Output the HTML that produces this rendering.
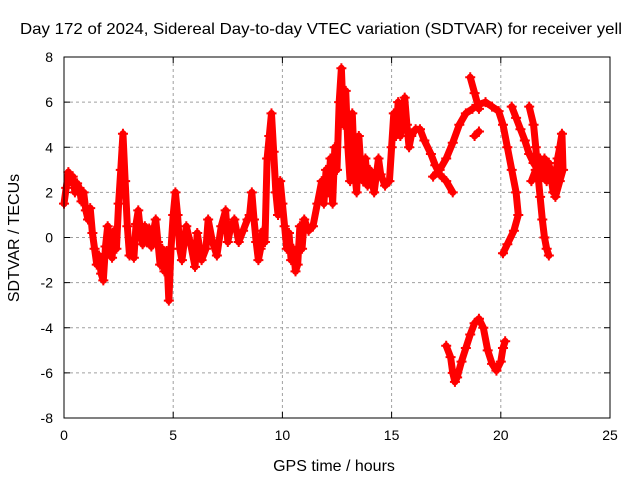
<!DOCTYPE html>
<html><head><meta charset="utf-8"><style>
body{margin:0;background:#fff;}
svg text{font-family:"Liberation Sans",sans-serif;fill:#000;}
</style></head><body>
<svg id="chart" width="640" height="480" xmlns="http://www.w3.org/2000/svg">
<rect width="640" height="480" fill="#fff"/>
<text x="20" y="34" font-size="16" textLength="602" lengthAdjust="spacingAndGlyphs">Day 172 of 2024, Sidereal Day-to-day VTEC variation (SDTVAR) for receiver yell</text>
<text transform="translate(19,238) rotate(-90)" text-anchor="middle" font-size="16">SDTVAR / TECUs</text>
<text x="334" y="471" text-anchor="middle" font-size="16">GPS time / hours</text>
<g id="grid"></g>
<g id="ticks"></g>
<g id="series"></g>
<rect x="64" y="57" width="546" height="361" fill="none" stroke="#000" stroke-width="1"/>
</svg>
<script>
const xTicks=[0,5,10,15,20,25];
const yTicks=[-8,-6,-4,-2,0,2,4,6,8];
const trackMain=[[0,1.5],[0.1,2.2],[0.2,2.9],[0.3,2.5],[0.4,2.7],[0.5,2.0],[0.6,2.4],[0.7,2.2],[0.8,1.6],[0.9,2.0],[1.0,1.2],[1.1,0.8],[1.2,1.3],[1.3,0.2],[1.4,-0.5],[1.5,-1.2],[1.6,-0.8],[1.7,-1.6],[1.8,-1.9],[1.9,-0.4],[2.0,0.5],[2.1,-0.3],[2.2,-0.9],[2.3,0.3],[2.4,-0.5],[2.5,1.5],[2.6,3.0],[2.7,4.6],[2.8,2.5],[2.9,0.5],[3.0,-0.8],[3.1,-0.3],[3.2,-0.9],[3.3,0.6],[3.4,1.2],[3.5,0.3],[3.6,-0.3],[3.7,0.5],[3.8,-0.2],[3.9,0.4],[4.0,-0.4],[4.1,0.3],[4.2,0.8],[4.3,-0.2],[4.4,-1.2],[4.5,-0.5],[4.6,-1.5],[4.7,-0.6],[4.8,-2.8],[4.9,-0.5],[5.0,1.0],[5.1,2.0],[5.2,1.0],[5.3,-0.5],[5.4,-1.0],[5.6,0.5],[5.8,-0.3],[6.0,-1.3],[6.1,0.2],[6.3,-1.0],[6.5,-0.5],[6.6,0.8],[6.8,-0.2],[7.0,-0.8],[7.2,0.5],[7.4,1.2],[7.5,-0.2],[7.6,0.3],[7.8,0.8],[8.0,-0.2],[8.2,0.3],[8.4,0.8],[8.5,1.0],[8.6,2.0],[8.7,0.8],[8.8,-0.2],[8.9,-1.0],[9.0,-0.5],[9.1,0.3],[9.2,-0.2],[9.3,3.5],[9.4,4.5],[9.5,5.5],[9.6,3.8],[9.7,2.0],[9.8,1.0],[9.9,2.5],[10.0,1.5],[10.1,0.5],[10.2,-0.5],[10.3,0.2],[10.4,-1.0],[10.5,-0.5],[10.6,-1.5],[10.7,-1.2],[10.8,0.5],[10.9,-0.5],[11.0,0.8],[11.2,0.3],[11.4,0.5],[11.6,1.5],[11.8,2.5],[11.9,1.5],[12.0,3.0],[12.1,2.0],[12.2,3.5],[12.3,1.5],[12.4,4.0],[12.5,3.0],[12.6,6.0],[12.7,7.5],[12.8,5.0],[12.9,6.5],[13.0,4.0],[13.1,2.5],[13.2,5.5],[13.3,3.0],[13.4,2.0],[13.5,4.5],[13.6,3.0],[13.7,2.5],[13.8,3.5],[13.9,2.3],[14.0,3.0],[14.2,2.0],[14.4,3.5],[14.5,2.8],[14.7,2.3],[14.9,2.5],[15.0,4.0],[15.1,5.5],[15.2,4.5],[15.3,6.0],[15.4,4.5],[15.6,6.2],[15.7,5.0],[15.8,4.0],[15.9,4.5],[16.1,4.8],[16.3,4.8],[16.5,4.3],[16.8,3.7],[17.0,3.2],[17.2,2.8],[17.5,2.5],[17.8,2.0]];
const trackArc=[[16.9,2.7],[17.2,3.0],[17.5,3.5],[17.8,4.2],[18.1,5.0],[18.4,5.5],[18.7,5.7],[19.0,5.9],[19.3,6.0],[19.6,5.8],[19.9,5.6],[20.1,5.0],[20.3,4.0],[20.5,3.0],[20.7,2.0],[20.8,1.0],[20.6,0.3],[20.3,-0.3],[20.1,-0.7]];
const trackPeak=[[18.6,7.1],[18.8,6.4],[19.0,5.7]];
const trackBlob=[[18.8,4.5],[19.0,4.7]];
const trackRight1=[[20.5,5.8],[20.7,5.3],[20.9,4.8],[21.1,4.3],[21.3,3.7],[21.5,3.3],[21.7,3.0],[21.9,2.8],[22.1,2.5]];
const trackRight2=[[21.3,5.8],[21.5,5.0],[21.6,4.0],[21.7,2.8],[21.8,1.8],[21.9,0.8],[22.0,0.0],[22.1,-0.5],[22.2,-0.8]];
const trackCluster=[[21.4,2.5],[21.6,3.0],[21.8,3.5],[22.0,2.8],[22.2,3.3],[22.4,2.0],[22.5,2.5],[22.6,3.5],[22.7,4.0],[22.8,4.6],[22.85,3.0],[22.7,2.5],[22.5,1.8],[22.3,3.0],[22.0,3.5]];
const trackNeg=[[17.5,-4.8],[17.7,-5.3],[17.8,-6.0],[17.9,-6.4],[18.0,-6.2],[18.2,-5.5],[18.4,-4.9],[18.6,-4.3],[18.8,-3.8],[19.0,-3.6],[19.2,-4.0],[19.4,-5.0],[19.6,-5.6],[19.8,-5.9],[20.0,-5.5],[20.1,-4.9],[20.2,-4.6]];
const tracks=[trackMain,trackArc,trackPeak,trackBlob,trackRight1,trackRight2,trackCluster,trackNeg];

const X0=64,X1=610,Y0=418,Y1=57;
function xs(h){return X0+(h-0)/(25-0)*(X1-X0);}
function ys(v){return Y0-(v+8)/16*(Y0-Y1);}
const NS='http://www.w3.org/2000/svg';
function mk(t,a,p){const e=document.createElementNS(NS,t);for(const k in a)e.setAttribute(k,a[k]);p.appendChild(e);return e;}
const grid=document.getElementById('grid'),ticks=document.getElementById('ticks'),ser=document.getElementById('series');
xTicks.forEach(t=>{const x=xs(t);
 if(t>0&&t<25){const l=mk('line',{x1:x,y1:Y1,x2:x,y2:Y0,stroke:'#a0a0a0','stroke-dasharray':'3,3'},grid);
 
 }
 mk('line',{x1:x,y1:Y0,x2:x,y2:Y0-6,stroke:'#000'},ticks);
 mk('line',{x1:x,y1:Y1,x2:x,y2:Y1+6,stroke:'#000'},ticks);
 const tx=mk('text',{x:x,y:Y0+22,'text-anchor':'middle','font-size':'14'},ticks);tx.textContent=t;
 
 
});
yTicks.forEach(t=>{const y=ys(t);
 if(t>-8&&t<8){const l=mk('line',{x1:X0,y1:y,x2:X1,y2:y,stroke:'#a0a0a0','stroke-dasharray':'3,3'},grid);
 
 }
 mk('line',{x1:X0,y1:y,x2:X0+6,y2:y,stroke:'#000'},ticks);
 mk('line',{x1:X1,y1:y,x2:X1-6,y2:y,stroke:'#000'},ticks);
 const tx=mk('text',{x:X0-11,y:y+5,'text-anchor':'end','font-size':'14'},ticks);tx.textContent=t;
 
 
});
tracks.forEach(tr=>{
 const pl=mk('polyline',{points:tr.map(p=>xs(p[0])+','+ys(p[1])).join(' '),fill:'none',stroke:'#f00','stroke-width':7,'stroke-linejoin':'round','stroke-linecap':'round'},ser);
 
 
 tr.forEach(p=>{const x=xs(p[0]),y=ys(p[1]);
  const m=mk('path',{d:`M${x-5},${y}H${x+5}M${x},${y-5}V${y+5}`,stroke:'#f00','stroke-width':2},ser);
  
  
 });
});
</script>
</body></html>
